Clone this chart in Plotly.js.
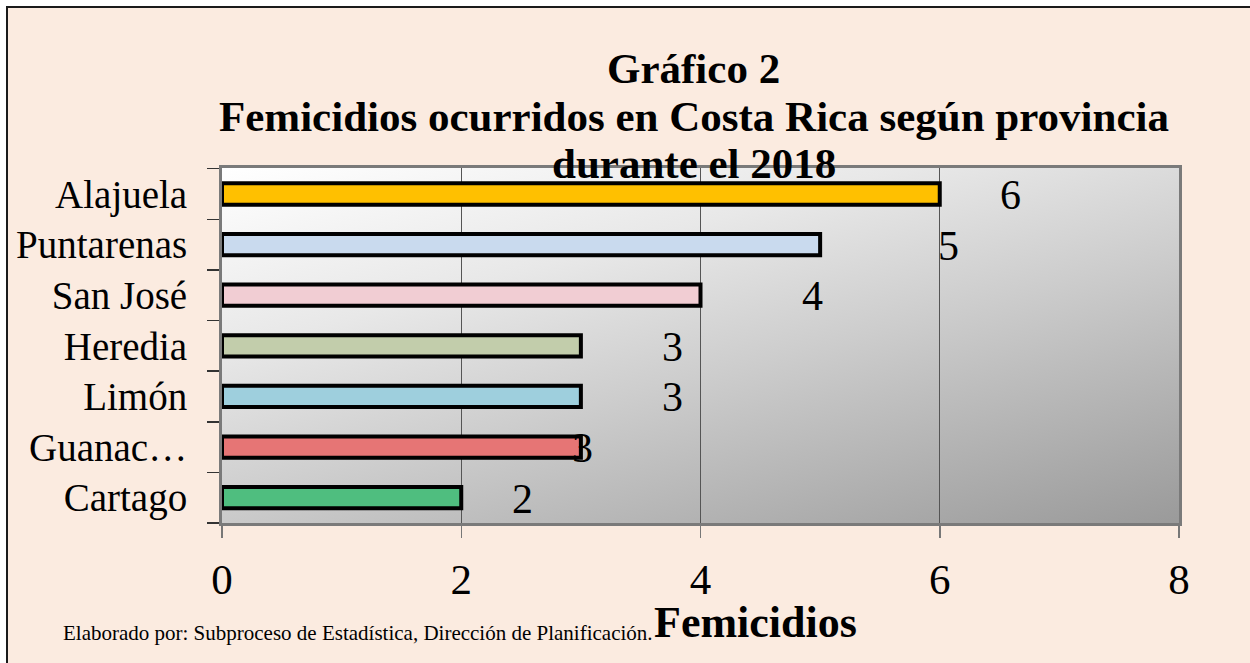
<!DOCTYPE html>
<html><head><meta charset="utf-8">
<script src="https://cdn.plot.ly/plotly-3.0.1.min.js"></script>
<style>
html,body{margin:0;padding:0;background:#fff;width:1250px;height:663px;overflow:hidden;}
#panel{position:absolute;left:6px;top:6px;width:1250px;height:663px;background:#FBEBE0;border-left:2px solid #1a1a1a;border-top:2px solid #1a1a1a;}
#grad{position:absolute;left:222px;top:168px;width:957px;height:355px;background:linear-gradient(165deg,#ffffff 0%,#e8e8e8 30%,#cdcdcd 55%,#9a9a9a 100%);}
#chart{position:absolute;left:0;top:0;width:1250px;height:663px;}
</style></head>
<body>
<div id="panel"></div><div id="grad"></div><div id="chart"></div>
<script>
// ---- data ----
const provinces = ["Alajuela", "Puntarenas", "San José", "Heredia", "Limón", "Guanacaste", "Cartago"];
const provinceLabels = ["Alajuela", "Puntarenas", "San José", "Heredia", "Limón", "Guanac…", "Cartago"];
const femicidios = [6, 5, 4, 3, 3, 3, 2];
const xTickVals = [0, 2, 4, 6, 8];
const titleLines = ["Gráfico 2", "Femicidios ocurridos en Costa Rica según provincia", "durante el 2018"];
const xAxisTitle = "Femicidios";
const sourceNote = "Elaborado por: Subproceso de Estadística, Dirección de Planificación.";

// ---- styles ----
const barColors = ["#FFC000", "#C9DAEE", "#F1CDD3", "#C2CDAB", "#9ECFDD", "#E67575", "#4FBE7F"];
const labelShiftPx = [71, 128, 112, 92, 92, 2, 61];
const serif = "Liberation Serif, Times New Roman, serif";

const trace = {
  type: "bar",
  orientation: "h",
  y: provinces,
  x: femicidios,
  width: 0.42,
  marker: {color: barColors, line: {color: "#000", width: 4}},
  hoverinfo: "x+y"
};

const annotations = [];
const titleY = [1.28, 1.145, 1.012];
titleLines.forEach((t, i) => annotations.push({
  text: "<b>" + t + "</b>", xref: "paper", yref: "paper", x: 0.493, y: titleY[i],
  xanchor: "center", yanchor: "middle", showarrow: false,
  font: {family: serif, size: 43, color: "#000"}
}));
provinces.forEach((p, i) => annotations.push({
  text: String(femicidios[i]), xref: "x", yref: "y", x: femicidios[i], y: p,
  xshift: labelShiftPx[i], yshift: -1, xanchor: "center", yanchor: "middle", showarrow: false,
  font: {family: serif, size: 42, color: "#000"}
}));
annotations.push({
  text: "<b>" + xAxisTitle + "</b>", xref: "paper", yref: "paper", x: 0.557, y: -0.28,
  xanchor: "center", yanchor: "middle", showarrow: false,
  font: {family: serif, size: 44, color: "#000"}
});
annotations.push({
  text: sourceNote, xref: "paper", yref: "paper", x: -0.168, y: -0.31,
  xanchor: "left", yanchor: "middle", showarrow: false,
  font: {family: serif, size: 21, color: "#000"}
});

const layout = {
  width: 1250, height: 663,
  margin: {l: 222, r: 71, t: 168, b: 140, pad: 0},
  paper_bgcolor: "rgba(0,0,0,0)",
  plot_bgcolor: "rgba(0,0,0,0)",
  showlegend: false,
  xaxis: {
    range: [0, 8], tickvals: xTickVals, ticks: "outside", ticklen: 12, tickwidth: 1.5, tickcolor: "#777",
    showgrid: true, gridcolor: "#555", gridwidth: 1, zeroline: false,
    showline: true, linecolor: "#7a7a7a", linewidth: 3, mirror: true,
    tickfont: {family: serif, size: 43, color: "#000"}, ticklabelstandoff: 4, fixedrange: true
  },
  yaxis: {
    type: "category", autorange: "reversed", tickvals: provinces, ticktext: provinceLabels,
    ticks: "outside", tickson: "boundaries", ticklen: 12, tickwidth: 1.5, tickcolor: "#333",
    showgrid: false, zeroline: false,
    showline: true, linecolor: "#7a7a7a", linewidth: 3, mirror: true,
    tickfont: {family: serif, size: 39, color: "#000"}, ticklabelstandoff: 24, fixedrange: true
  },
  annotations: annotations
};

Plotly.newPlot("chart", [trace], layout, {displayModeBar: false, staticPlot: true});
</script>
</body></html>
